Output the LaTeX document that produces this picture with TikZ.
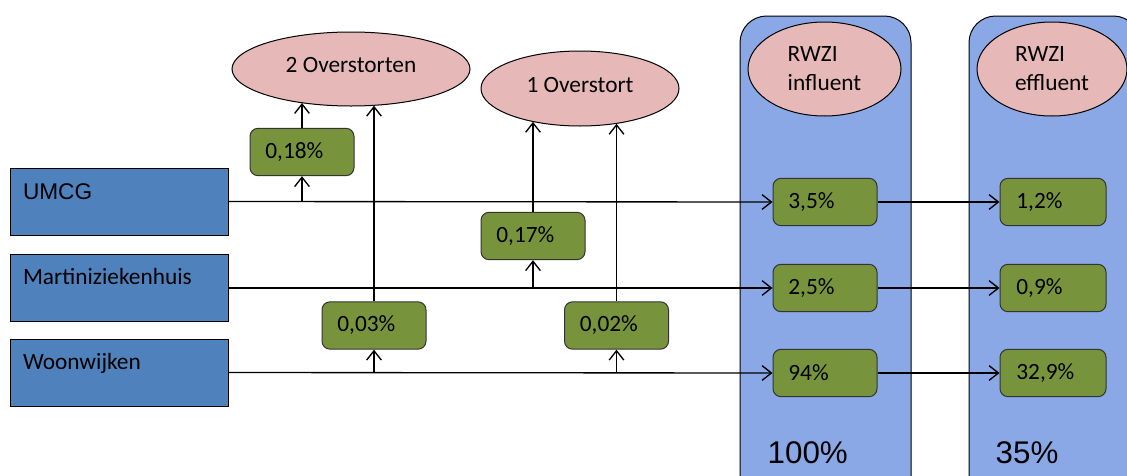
\documentclass[tikz,border=0pt]{standalone}
\usepackage{fontspec}
\setmainfont{Carlito}
\newfontfamily\arialfont{Liberation Sans}
\usetikzlibrary{
    arrows.meta,
    shapes.geometric % for the ellipses
}
\definecolor{srcblue}{HTML}{4F81BD}
\definecolor{rwziblue}{HTML}{8AA8E6}
\definecolor{ovpink}{HTML}{E6B9B8}
\definecolor{pctgreen}{HTML}{77933C}

\begin{document}
\begin{tikzpicture}[x=0.75pt, y=-0.75pt,
    font=\fontsize{17.5}{21.75}\selectfont,
    source/.style={draw, line width=0.75pt, fill=srcblue, align=left,
        text width=144pt, inner xsep=9.75pt, inner ysep=0pt,
        text height=22.5pt, text depth=27.75pt},
    pct/.style={draw=black!80, line width=0.75pt, fill=pctgreen, rounded corners=6pt,
        align=left, text width=55pt, inner xsep=11.5pt, inner ysep=0pt,
        minimum height=35.5pt},
    overstort/.style={ellipse, draw, line width=0.75pt, fill=ovpink, inner sep=0pt},
    rwzi/.style={draw, line width=0.75pt, fill=rwziblue, rounded corners=20pt},
    flow/.style={line width=1pt, -{Straight Barb[length=7pt, width=11pt]}}
]
    \clip (0,0) rectangle (1127,475);

    % treatment plant columns
    \draw[rwzi] (740,16) rectangle (911,520);
    \draw[rwzi] (969,16) rectangle (1140,520);
    \node[anchor=base west, font=\arialfont\fontsize{23.5}{28}\selectfont] (tot) at (763,463) {100\%};
    \node[anchor=base west, font=\arialfont\fontsize{23.5}{28}\selectfont] (rest) at (991,463) {35\%};

    % sources
    \node[source, font=\arialfont\fontsize{17}{21}\selectfont, text height=23.25pt, text depth=27pt]
        (umcg) at (119,201.5) {UMCG};
    \node[source] (martini) at (119,288) {Martiniziekenhuis};
    \node[source] (woon) at (119,372.5) {Woonwijken};

    % overflows
    \node[overstort, minimum width=178.5pt, minimum height=55.5pt, text depth=6pt] (ov2) at (351,69) {2 Overstorten};
    \node[overstort, minimum width=148.5pt, minimum height=56.25pt, text depth=6pt] (ov1) at (580,88.5) {1 Overstort};
    \node[overstort, minimum width=114.75pt, minimum height=70.5pt, align=left] (rin) at (824.5,69) {RWZI\\influent};
    \node[overstort, minimum width=112.5pt, minimum height=70.5pt, align=left] (reff) at (1052,69) {RWZI\\effluent};

    % percentages
    \node[pct] (p18) at (302,152) {0,18\%};
    \node[pct] (p17) at (533,236) {0,17\%};
    \node[pct] (p03) at (374,325.5) {0,03\%};
    \node[pct] (p02) at (616.5,325.5) {0,02\%};

    \node[pct] (in1) at (825,202) {3,5\%};
    \node[pct] (in2) at (825,288) {2,5\%};
    \node[pct] (in3) at (825,373) {94\%};
    \node[pct, minimum width=79.5pt] (ef1) at (1053,202) {1,2\%};
    \node[pct, minimum width=79.5pt] (ef2) at (1053,288) {0,9\%};
    \node[pct, minimum width=79.5pt] (ef3) at (1053,373) {32,9\%};

    % flows
    \draw[flow] (umcg.east) -- (in1.west);
    \draw[flow] (martini.east) -- (in2.west);
    \draw[flow] (woon.east) -- (in3.west);

    \draw[flow] (umcg.east -| p18.south) -- (p18.south);
    \draw[flow] (p18.north) -- (p18.north |- ov2.214);
    \draw[flow] (woon.east -| p03.south) -- (p03.south);
    \draw[flow] (p03.north) -- (p03.north |- ov2.-57);

    \draw[flow] (martini.east -| p17.south) -- (p17.south);
    \draw[flow] (p17.north) -- (p17.north |- ov1.215);
    \draw[flow] (woon.east -| p02.south) -- (p02.south);
    \draw[flow] (p02.north) -- (p02.north |- ov1.-44);

    \draw[flow] (in1.east) -- (ef1.west);
    \draw[flow] (in2.east) -- (ef2.west);
    \draw[flow] (in3.east) -- (ef3.west);
\end{tikzpicture}
\end{document}
